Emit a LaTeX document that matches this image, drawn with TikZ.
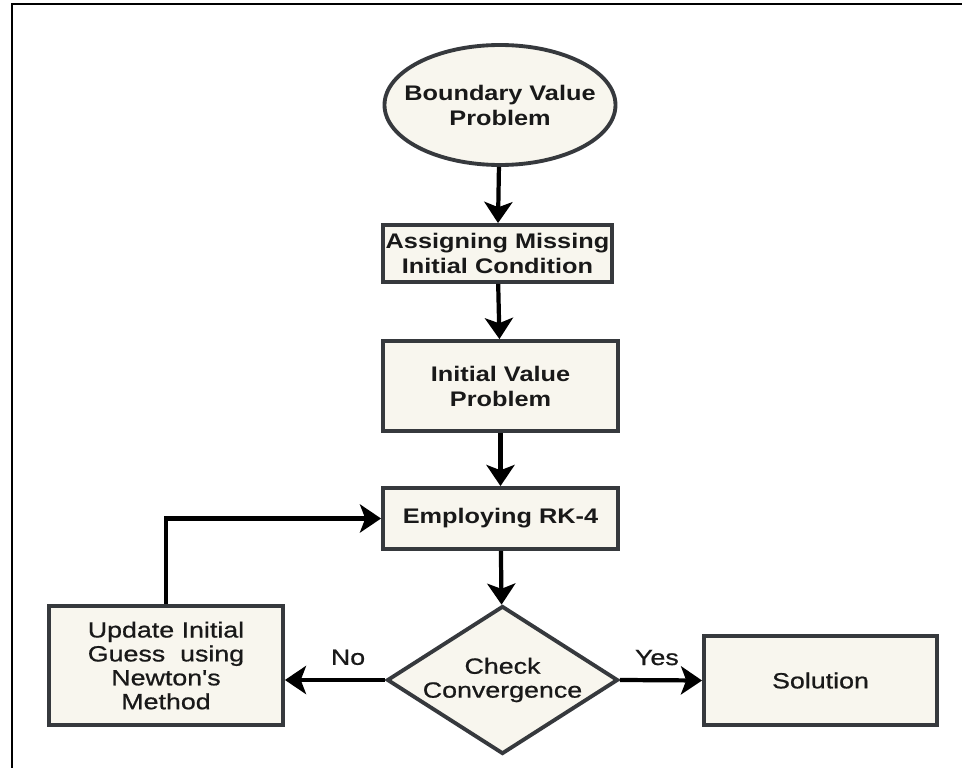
\documentclass[tikz,border=0pt]{standalone}
\usepackage{fontspec}
\setmainfont{Liberation Sans}
\newfontfamily\flowfont[FakeStretch=1.2]{Liberation Sans}
\newfontfamily\flowmedium[FakeStretch=1.22, FakeBold=0.8]{Liberation Sans}
\usetikzlibrary{shapes.geometric, arrows.meta, positioning}
\definecolor{FlowFill}{RGB}{248, 246, 238}
\definecolor{FlowLine}{RGB}{54, 57, 61}

\tikzset{
  boldtext/.style={font=\flowfont\fontsize{12}{14.2}\selectfont\bfseries, align=center, text=black!90},
  plaintext/.style={font=\flowmedium\fontsize{12.5}{13.6}\selectfont, align=center, text=black!90},
  procbox/.style={draw=FlowLine, line width=2.2pt, fill=FlowFill, inner sep=0pt},
  startshape/.style={procbox, ellipse},
  decision/.style={procbox, diamond},
  flowarrow/.style={-{Stealth[length=12pt, width=16pt, inset=3pt]}, line width=2.4pt, black}
}

\begin{document}
\begin{tikzpicture}
    \useasboundingbox (0,0) rectangle (19.24,-15.36);
    \draw[line width=1.2pt] (19.24,-0.08) -- (0.24,-0.08) -- (0.24,-15.36);

    \node[startshape, minimum width=4.62cm, minimum height=2.4cm, label={[boldtext]center:Boundary Value\\Problem}] (bvp) at (10,-2.1) {};
    \node[procbox, boldtext, minimum width=4.58cm, minimum height=1.14cm] (assign) at (9.95,-5.07) {Assigning Missing\\Initial Condition};
    \node[procbox, boldtext, minimum width=4.7cm, minimum height=1.8cm] (ivp) at (10.01,-7.72) {Initial Value\\Problem};
    \node[procbox, boldtext, minimum width=4.7cm, minimum height=1.22cm] (rk4) at (10.01,-10.37) {Employing RK-4};
    \node[decision, minimum width=4.62cm, minimum height=2.96cm, label={[plaintext]center:Check\\Convergence}] (check) at (10.05,-13.6) {};
    \node[procbox, plaintext, minimum width=4.68cm, minimum height=2.38cm] (update) at (3.32,-13.31) {Update Initial\\Guess\ \ using\\Newton's\\Method};
    \node[procbox, plaintext, minimum width=4.66cm, minimum height=1.78cm] (solution) at (16.41,-13.61) {Solution};

    \draw[flowarrow] (bvp) -- (assign);
    \draw[flowarrow] (assign) -- (ivp);
    \draw[flowarrow] (ivp) -- (rk4);
    \draw[flowarrow] (rk4) -- (check);
    \draw[flowarrow] (check.west) -- node[plaintext, above=4pt, pos=0.37] {No} (check.west -| update.east);
    \draw[flowarrow] (check.east) -- node[plaintext, above=4pt, pos=0.45] {Yes} (solution.west);
    \draw[flowarrow] (update.north) |- (rk4.west);
  \end{tikzpicture}
\end{document}
